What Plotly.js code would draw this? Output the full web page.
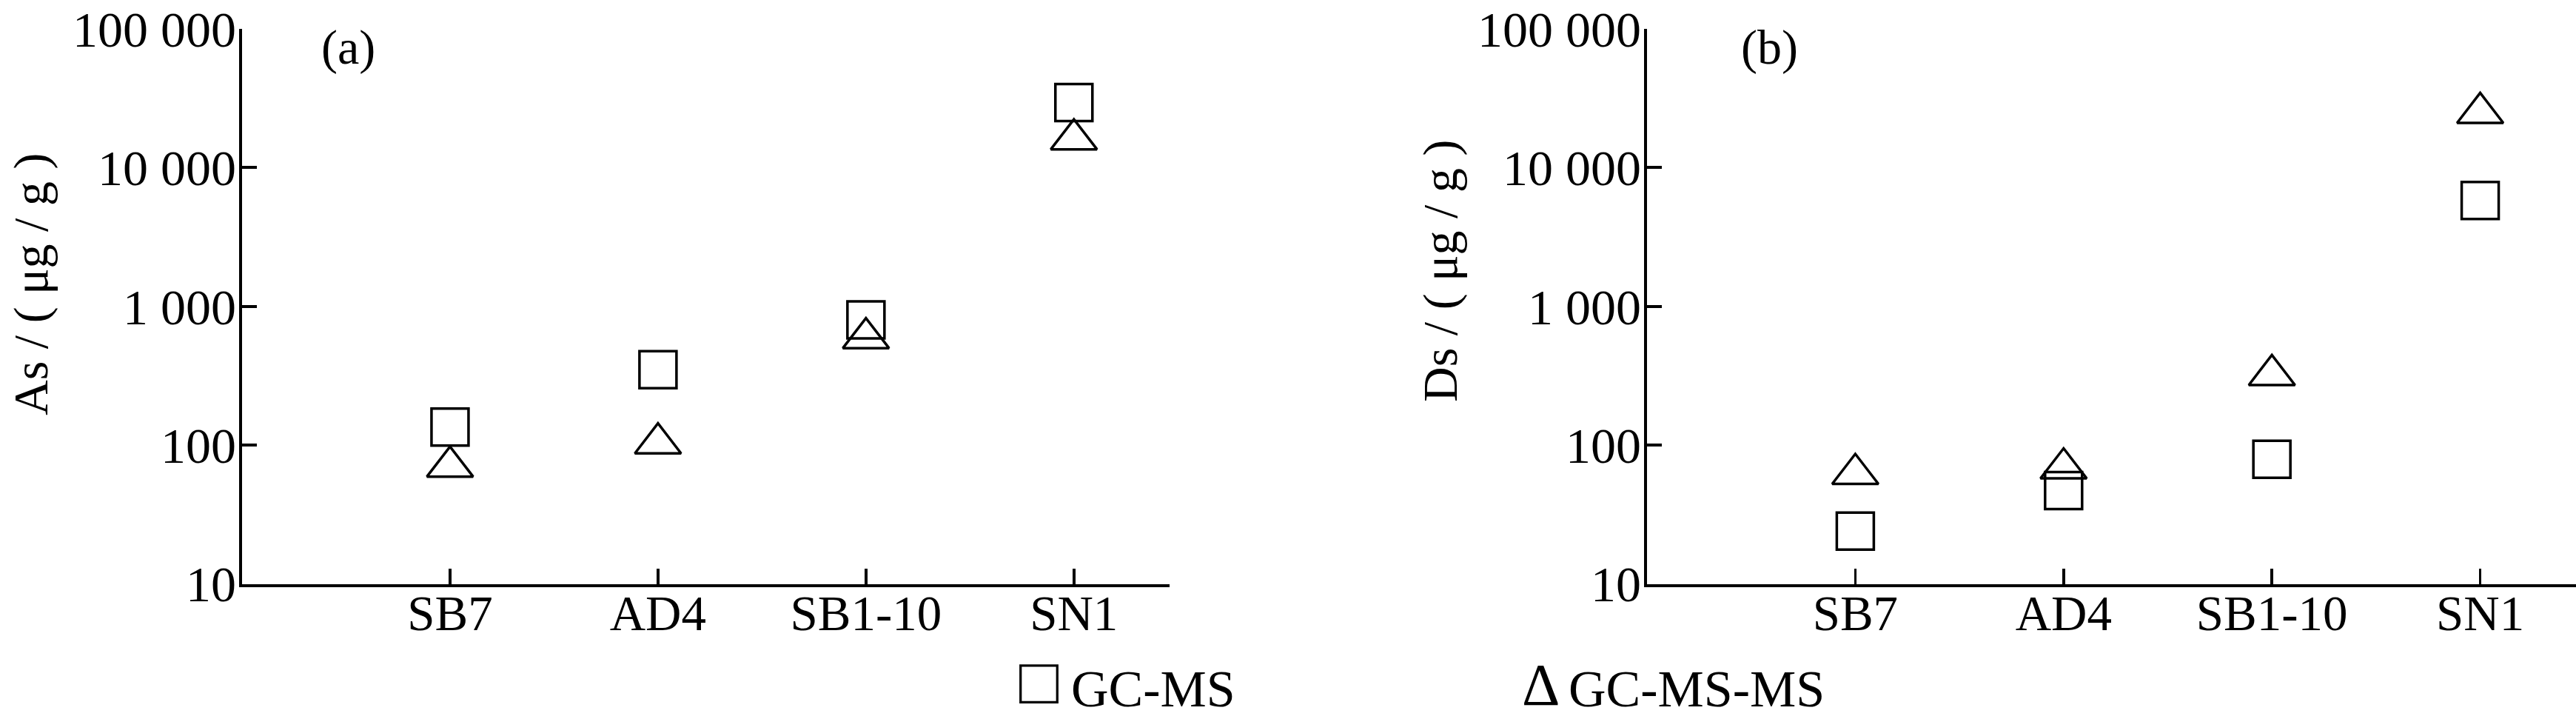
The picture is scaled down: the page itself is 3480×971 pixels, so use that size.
<!DOCTYPE html>
<html>
<head>
<meta charset="utf-8">
<script src="https://cdn.plot.ly/plotly-3.0.1.min.js"></script>
<style>
  html, body { margin: 0; padding: 0; background: #ffffff; }
  #chart { width: 3480px; height: 971px; }
</style>
</head>
<body>
<div id="chart"></div>
<script>
// ---- data ----
const categories = ['SB7', 'AD4', 'SB1-10', 'SN1'];
const asGcms     = [135, 350, 800, 29400];     // panel (a), squares
const asGcmsms   = [70, 103, 590, 16000];      // panel (a), triangles
const dsGcms     = [24, 47, 79, 5800];         // panel (b), squares
const dsGcmsms   = [62, 68, 320, 24800];       // panel (b), triangles
const yTickVals  = [10, 100, 1000, 10000, 100000];
const yTickText  = ['10', '100', '1 000', '10 000', '100 000'];
const seriesNames = ['GC-MS', 'GC-MS-MS'];

// ---- styles ----
const FONT = 'Liberation Serif, Times New Roman, serif';
const W = 3480, H = 971;
const px = v => v / W;
const py = v => 1 - v / H;

const sqMarker  = {symbol: 'square-open', size: 50, color: '#000', line: {width: 3.5, color: '#000'}};
const triMarker = {symbol: 'triangle-up-open', size: 54, color: '#000', line: {width: 3.5, color: '#000'}};

const traces = [
  {x: categories, y: asGcms,   xaxis: 'x',  yaxis: 'y',  mode: 'markers', marker: sqMarker,  name: seriesNames[0], showlegend: false},
  {x: categories, y: asGcmsms, xaxis: 'x',  yaxis: 'y',  mode: 'markers', marker: triMarker, name: seriesNames[1], showlegend: false},
  {x: categories, y: dsGcms,   xaxis: 'x2', yaxis: 'y2', mode: 'markers', marker: sqMarker,  name: seriesNames[0], showlegend: false},
  {x: categories, y: dsGcmsms, xaxis: 'x2', yaxis: 'y2', mode: 'markers', marker: triMarker, name: seriesNames[1], showlegend: false}
];

const yDomain = [1 - 788.5 / H, 1 - 39 / H];

function xAxis(domain, anchor) {
  return {
    domain: domain, anchor: anchor, type: 'category',
    range: [-1, 3.46],
    showline: true, linecolor: '#000', linewidth: 4.5,
    ticks: 'inside', ticklen: 21, tickwidth: 3.5, tickcolor: '#000',
    showgrid: false, zeroline: false,
    tickfont: {family: FONT, size: 67, color: '#000'},
    ticklabelstandoff: -22,
    fixedrange: true
  };
}
function yAxis(anchor) {
  return {
    domain: yDomain, anchor: anchor, type: 'log',
    range: [1, 5],
    tickvals: yTickVals, ticktext: yTickText,
    showline: true, linecolor: '#000', linewidth: 4.5,
    ticks: 'inside', ticklen: 20, tickwidth: 4, tickcolor: '#000',
    showgrid: false, zeroline: false,
    tickfont: {family: FONT, size: 68, color: '#000'},
    ticklabelstandoff: -10,
    fixedrange: true
  };
}

const annFont = {family: FONT, size: 66, color: '#000'};
const legFont = {family: FONT, size: 70, color: '#000'};

const layout = {
  width: W, height: H,
  margin: {l: 0, r: 0, t: 0, b: 0, autoexpand: false},
  paper_bgcolor: '#fff', plot_bgcolor: '#fff',
  showlegend: false,
  xaxis:  xAxis([327 / W, 1580 / W], 'y'),
  yaxis:  yAxis('x'),
  xaxis2: xAxis([2225 / W, 1], 'y2'),
  yaxis2: yAxis('x2'),
  annotations: [
    {xref: 'paper', yref: 'paper', x: px(42), y: py(384), xanchor: 'center', yanchor: 'middle',
     textangle: -90, showarrow: false, text: 'As / ( μg / g )', font: annFont},
    {xref: 'paper', yref: 'paper', x: px(1946), y: py(366), xanchor: 'center', yanchor: 'middle',
     textangle: -90, showarrow: false, text: 'Ds / ( μg / g )', font: annFont},
    {xref: 'paper', yref: 'paper', x: px(470), y: py(64), xanchor: 'center', yanchor: 'middle',
     showarrow: false, text: '(a)', font: annFont},
    {xref: 'paper', yref: 'paper', x: px(2390), y: py(64), xanchor: 'center', yanchor: 'middle',
     showarrow: false, text: '(b)', font: annFont},
    // legend
    {xref: 'paper', yref: 'paper', x: px(1403), y: 0, xanchor: 'center', yanchor: 'bottom',
     showarrow: false, text: '□', font: {family: FONT, size: 88, color: '#000'}},
    {xref: 'paper', yref: 'paper', x: px(1445), y: 0, xanchor: 'left', yanchor: 'bottom',
     showarrow: false, text: seriesNames[0], font: legFont},
    {xref: 'paper', yref: 'paper', x: px(2081), y: 0, xanchor: 'center', yanchor: 'bottom',
     showarrow: false, text: 'Δ', font: {family: FONT, size: 80, color: '#000'}},
    {xref: 'paper', yref: 'paper', x: px(2117), y: 0, xanchor: 'left', yanchor: 'bottom',
     showarrow: false, text: seriesNames[1], font: legFont}
  ]
};

Plotly.newPlot('chart', traces, layout, {staticPlot: true, displayModeBar: false});
</script>
</body>
</html>
